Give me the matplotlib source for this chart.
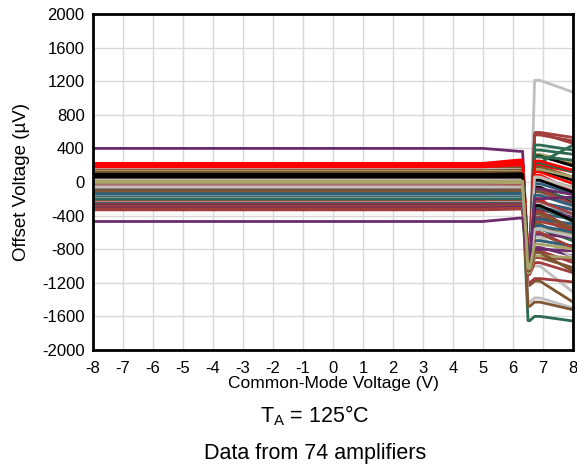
import matplotlib
matplotlib.use("Agg")
from matplotlib import pyplot as plt
import numpy as np

plt.rcParams['font.family'] = ['Liberation Sans', 'DejaVu Sans']
plt.rcParams['axes.unicode_minus'] = False

# common-mode voltage knots (V) where each curve was read
vcm = [-8, 5.0, 6.2, 6.32, 6.5, 6.56, 6.72, 6.9, 8.0]

# colour code per amplifier
palette = {'R': '#ff0000', 'K': '#000000', 'B': '#7d5530', 'G': '#bfbfbf',
           'P': '#6b2b6b', 'Y': '#a9a36c', 'T': '#2b6b50', 'U': '#2e607e',
           'D': '#a23f3d'}
codes = "PRRRRRDBGBYBBKKKGBPYUBYPDYBDGDYUTDBUTDUTTDUTGUTGTUTBDGTPDPDBDPDDRKGYBUKGPY"

# offset voltage (uV), flat part from -8 V to 5 V
flat = [400, 222, 212, 203, 194, 186, 176, 162, 150, 138, 128, 116, 104, 92,
        78, 68, 56, 46, 36, 26, 18, 8, 0, -8, -16, -24, -32, -40, -48, -56,
        -64, -72, -80, -88, -96, -104, -112, -120, -128, -136, -144, -152,
        -160, -168, -176, -184, -192, -200, -208, -216, -224, -232, -240,
        -248, -256, -264, -272, -280, -288, -296, -304, -312, -322, -332,
        180, 84, 20, -4, -110, -140, 60, -60, -470, 10]
# offset near 6.2 V
pre = [365, 262, 245, 228, 212, 200, 190, 172, 150, 142, 122, 112, 100, 98,
       82, 70, 50, 40, 28, 20, 8, 0, -10, -14, -20, -30, -38, -42, -50, -52,
       -62, -70, -82, -90, -100, -102, -110, -122, -126, -132, -140, -150,
       -162, -160, -172, -180, -190, -198, -204, -212, -222, -230, -232,
       -242, -250, -262, -262, -272, -280, -290, -300, -298, -312, -322,
       205, 92, 22, -8, -104, -140, 62, -60, -430, 12]
# bottom of the dip around 6.5 V
low = [-900, -860, -880, -950, -980, -900, -850, -880, -820, -900, -880,
       -950, -1000, -870, -900, -940, -1050, -1000, -980, -960, -920, -1000,
       -920, -960, -860, -1000, -1230, -1200, -1430, -860, -900, -960, -860,
       -980, -1000, -960, -880, -980, -1000, -900, -880, -1050, -980, -900,
       -1050, -980, -1650, -940, -980, -1040, -920, -1480, -940, -960,
       -1000, -1020, -980, -1050, -1080, -980, -960, -930, -1100, -1020,
       -880, -920, -920, -1080, -1060, -940, -960, -1000, -950, -1030]
# offset just after the jump, near 6.8 V
peak = [-250, 200, 120, -200, -350, 80, 590, 300, 1210, 180, 330, -120,
        -420, 310, 150, -60, -1000, -900, -780, -560, -20, -620, 30, -330,
        560, -690, -1180, -1150, -1380, 580, 150, -300, 440, -470, -500,
        -240, 300, -420, -520, 230, 380, -820, -440, 230, -650, -380, -1600,
        -150, -300, -700, -100, -1430, -90, -250, -560, -620, -350, -800,
        -900, -380, -230, -80, -960, -600, 250, 20, 60, -880, -840, -160,
        -280, -560, -200, -740]
# offset at 8 V
end = [-330, 120, -20, -480, -600, -100, 530, 220, 1070, 60, 240, -300,
       -620, 190, 20, -250, -1310, -1020, -880, -620, -140, -780, -60, -420,
       490, -790, -1430, -1190, -1500, 460, 60, -380, 380, -560, -700, -330,
       260, -540, -600, 120, 330, -960, -500, 440, -900, -440, -1655, -300,
       -470, -760, -210, -1520, -260, -380, -700, -660, -560, -820, -920,
       -560, -380, -150, -1080, -780, 140, -120, -80, -900, -1060, -280,
       -460, -650, -180, -800]

fig = plt.figure(figsize=(5.77, 4.70), dpi=100)
ax = fig.add_axes([93/577, 1-350/470, 480/577, 336/470])

for i in range(len(flat)):
    y = [flat[i], flat[i], pre[i], pre[i], low[i], low[i], peak[i], peak[i], end[i]]
    ax.plot(vcm, y, color=palette[codes[i]], lw=2.0, solid_joinstyle='round')

ax.set_xlim(-8, 8)
ax.set_ylim(-2000, 2000)
ax.set_xticks(np.arange(-8, 9, 1))
ax.set_yticks(np.arange(-2000, 2001, 400))
ax.grid(True, color='#d9d9d9', lw=1)
ax.set_axisbelow(True)
ax.tick_params(length=0, labelsize=12)
ax.tick_params(axis='y', pad=6)
ax.tick_params(axis='x', pad=8)
for s in ax.spines.values():
    s.set_linewidth(2)

ax.set_xlabel("Common-Mode Voltage (V)", fontsize=12.5, labelpad=0)
ax.set_ylabel("Offset Voltage (\u00b5V)", fontsize=13.5, labelpad=9)

fig.text(315/577, 1-416/470, "T$_\\mathregular{A}$ = 125\u00b0C", ha='center', va='center', fontsize=15.5)
fig.text(315/577, 1-453/470, "Data from 74 amplifiers", ha='center', va='center', fontsize=15.5)

plt.savefig("out.png", dpi=100)
